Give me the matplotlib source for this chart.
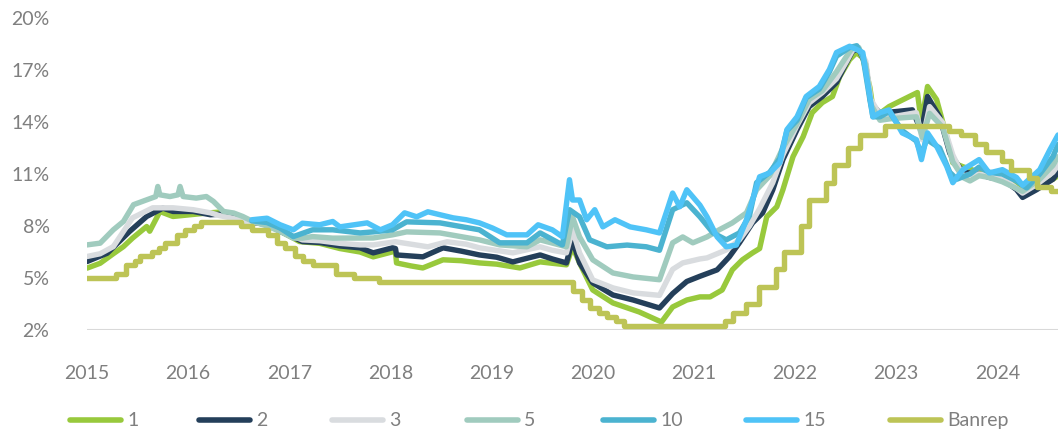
import math
import numpy as np
import matplotlib
matplotlib.use("Agg")
import matplotlib.pyplot as plt
from matplotlib.lines import Line2D
from matplotlib.ticker import FuncFormatter

# ---------------- data (x = position on the chart's year axis, y = %) ----------------
t1 = [2015.00, 2015.13, 2015.26, 2015.36, 2015.45, 2015.59, 2015.62, 2015.70, 2015.72, 2015.85,
      2016.02, 2016.19, 2016.31, 2016.44, 2016.54, 2016.64, 2016.78, 2016.91, 2017.04, 2017.10,
      2017.30, 2017.50, 2017.70, 2017.83, 2018.02, 2018.05, 2018.06, 2018.20, 2018.32, 2018.52,
      2018.70, 2018.88, 2019.05, 2019.28, 2019.48, 2019.60, 2019.74, 2019.80, 2019.87, 2020.00,
      2020.20, 2020.46, 2020.68, 2020.79, 2020.93, 2021.06, 2021.16, 2021.28, 2021.38, 2021.48,
      2021.58, 2021.65, 2021.72, 2021.82, 2021.88, 2021.98, 2022.08, 2022.17, 2022.27, 2022.37,
      2022.44, 2022.54, 2022.57, 2022.61, 2022.67, 2022.74, 2022.77, 2022.84, 2022.93, 2023.13,
      2023.21, 2023.25, 2023.31, 2023.40, 2023.50, 2023.56, 2023.66, 2023.82, 2023.92, 2024.05,
      2024.19, 2024.29, 2024.42, 2024.55, 2024.60]
y1 = [5.07, 5.35, 5.90, 6.31, 6.80, 7.47, 7.20, 8.10, 8.34, 8.05,
      8.15, 8.25, 8.30, 8.00, 7.80, 7.70, 7.60, 7.20, 6.80, 6.60,
      6.50, 6.20, 6.00, 5.72, 6.01, 6.00, 5.37, 5.20, 5.08, 5.55,
      5.50, 5.37, 5.30, 5.08, 5.43, 5.35, 5.26, 6.30, 5.37, 3.81,
      3.06, 2.54, 1.96, 2.83, 3.23, 3.41, 3.41, 3.81, 4.97, 5.55,
      5.95, 6.20, 8.03, 8.61, 9.59, 11.50, 12.65, 14.04, 14.62, 14.97,
      16.10, 17.10, 17.28, 17.50, 17.20, 15.50, 14.30, 14.00, 14.39, 14.97,
      15.20, 13.46, 15.55, 14.79, 12.65, 11.15, 10.92, 10.60, 10.40, 10.30,
      9.90, 9.50, 9.90, 10.20, 10.40]

t2 = [2015.00, 2015.20, 2015.42, 2015.59, 2015.75, 2015.85, 2016.05, 2016.22, 2016.38, 2016.54,
      2016.64, 2016.78, 2016.91, 2017.04, 2017.13, 2017.30, 2017.50, 2017.70, 2017.83, 2018.02,
      2018.05, 2018.06, 2018.32, 2018.52, 2018.70, 2018.88, 2019.05, 2019.21, 2019.48, 2019.60,
      2019.74, 2019.80, 2019.87, 2020.00, 2020.20, 2020.40, 2020.66, 2020.79, 2020.93, 2021.06,
      2021.23, 2021.35, 2021.45, 2021.58, 2021.68, 2021.78, 2021.88, 2022.02, 2022.14, 2022.27,
      2022.41, 2022.51, 2022.57, 2022.63, 2022.70, 2022.75, 2022.84, 2022.96, 2023.16, 2023.25,
      2023.31, 2023.43, 2023.53, 2023.66, 2023.82, 2023.92, 2024.05, 2024.19, 2024.25, 2024.39,
      2024.55, 2024.60]
y2 = [5.45, 5.93, 7.18, 8.05, 8.53, 8.34, 8.34, 8.15, 8.20, 7.85,
      7.70, 7.60, 7.20, 6.85, 6.60, 6.55, 6.35, 6.24, 5.95, 6.24,
      6.20, 5.83, 5.72, 6.24, 6.05, 5.83, 5.70, 5.43, 5.83, 5.60,
      5.37, 6.70, 5.37, 4.22, 3.52, 3.23, 2.77, 3.60, 4.30, 4.60,
      4.97, 5.72, 6.53, 7.68, 8.26, 9.59, 11.33, 13.06, 14.39, 14.97,
      15.78, 16.93, 17.60, 17.70, 16.80, 14.60, 14.00, 14.08, 14.20, 12.93,
      14.97, 13.80, 11.70, 10.60, 10.50, 10.30, 10.20, 9.60, 9.15, 9.60,
      10.20, 10.60]

t3 = [2015.00, 2015.13, 2015.26, 2015.45, 2015.65, 2015.85, 2016.05, 2016.22, 2016.31, 2016.44,
      2016.54, 2016.64, 2016.78, 2016.91, 2017.04, 2017.13, 2017.30, 2017.50, 2017.70, 2017.83,
      2018.05, 2018.37, 2018.56, 2018.75, 2018.88, 2019.21, 2019.48, 2019.60, 2019.74, 2019.80,
      2019.87, 2020.00, 2020.20, 2020.40, 2020.66, 2020.79, 2020.89, 2021.06, 2021.13, 2021.32,
      2021.45, 2021.55, 2021.65, 2021.78, 2021.88, 2022.02, 2022.14, 2022.27, 2022.41, 2022.51,
      2022.57, 2022.63, 2022.70, 2022.75, 2022.84, 2022.96, 2023.20, 2023.26, 2023.33, 2023.46,
      2023.56, 2023.66, 2023.82, 2023.92, 2024.05, 2024.25, 2024.39, 2024.55, 2024.60]
y3 = [5.74, 5.90, 6.31, 7.97, 8.55, 8.55, 8.44, 8.26, 8.10, 7.95,
      7.80, 7.70, 7.65, 7.30, 6.90, 6.70, 6.65, 6.50, 6.41, 6.41,
      6.59, 6.30, 6.59, 6.45, 6.24, 5.95, 6.30, 6.10, 5.95, 7.28,
      5.95, 4.39, 3.93, 3.64, 3.50, 5.00, 5.37, 5.60, 5.66, 6.12,
      6.70, 7.50, 8.50, 10.00, 11.60, 13.30, 14.60, 15.20, 16.00, 17.00,
      17.65, 17.75, 17.00, 14.80, 13.90, 13.80, 14.04, 12.47, 14.39, 13.46,
      11.60, 10.40, 10.50, 10.40, 10.30, 9.40, 9.90, 10.60, 11.00]

t5 = [2015.00, 2015.13, 2015.26, 2015.36, 2015.46, 2015.59, 2015.68, 2015.70, 2015.72, 2015.82,
      2015.90, 2015.92, 2015.95, 2016.08, 2016.18, 2016.25, 2016.35, 2016.45, 2016.54, 2016.64,
      2016.78, 2016.91, 2017.04, 2017.13, 2017.23, 2017.43, 2017.83, 2018.02, 2018.16, 2018.49,
      2018.88, 2019.08, 2019.35, 2019.48, 2019.74, 2019.80, 2019.87, 2020.00, 2020.20, 2020.40,
      2020.66, 2020.79, 2020.89, 2020.99, 2021.13, 2021.25, 2021.38, 2021.52, 2021.62, 2021.75,
      2021.88, 2022.02, 2022.14, 2022.27, 2022.41, 2022.51, 2022.57, 2022.63, 2022.70, 2022.75,
      2022.84, 2022.96, 2023.20, 2023.26, 2023.33, 2023.46, 2023.56, 2023.66, 2023.73, 2023.82,
      2023.92, 2024.05, 2024.25, 2024.42, 2024.55, 2024.60]
y5 = [6.41, 6.51, 7.28, 7.76, 8.73, 9.01, 9.20, 9.78, 9.30, 9.20,
      9.30, 9.78, 9.20, 9.11, 9.20, 8.92, 8.34, 8.25, 8.05, 7.76,
      7.50, 7.18, 6.80, 6.80, 6.89, 6.80, 6.81, 6.99, 7.16, 7.10,
      6.70, 6.41, 6.30, 6.70, 6.30, 8.03, 6.87, 5.55, 4.79, 4.56,
      4.40, 6.53, 6.87, 6.53, 6.87, 7.28, 7.68, 8.26, 9.59, 10.40,
      12.00, 13.40, 14.80, 15.30, 16.40, 17.30, 17.80, 17.80, 16.80, 14.50,
      13.60, 13.70, 13.80, 12.60, 14.00, 13.20, 11.20, 10.30, 10.10, 10.40,
      10.30, 10.05, 9.50, 10.20, 11.00, 11.50]

t10 = [2016.63, 2016.78, 2016.91, 2017.04, 2017.23, 2017.43, 2017.70, 2017.83, 2018.02, 2018.16,
       2018.49, 2018.88, 2019.08, 2019.35, 2019.48, 2019.70, 2019.77, 2019.87, 2019.97, 2020.14,
       2020.34, 2020.53, 2020.66, 2020.79, 2020.93, 2021.06, 2021.19, 2021.32, 2021.45, 2021.55,
       2021.62, 2021.75, 2021.85, 2021.92, 2022.02, 2022.11, 2022.24, 2022.34, 2022.41, 2022.54,
       2022.61, 2022.67, 2022.74, 2022.77, 2022.84, 2022.93, 2023.06, 2023.20, 2023.25, 2023.30,
       2023.43, 2023.53, 2023.60, 2023.73, 2023.82, 2023.92, 2024.05, 2024.19, 2024.29, 2024.42,
       2024.55, 2024.60]
y10 = [7.80, 7.70, 7.38, 6.89, 7.28, 7.28, 7.10, 7.16, 7.28, 7.74,
       7.68, 7.28, 6.53, 6.53, 7.10, 6.41, 8.44, 8.03, 6.70, 6.30,
       6.40, 6.30, 6.10, 8.44, 8.84, 8.03, 7.10, 6.70, 7.10, 8.10,
       10.00, 10.60, 11.40, 13.00, 13.60, 14.90, 15.40, 16.40, 17.30, 17.80,
       17.90, 17.30, 14.80, 13.80, 13.80, 14.10, 13.00, 12.40, 11.60, 12.50,
       12.00, 10.60, 10.20, 10.50, 10.90, 10.60, 10.50, 10.10, 9.70, 10.50,
       11.50, 12.20]

t15 = [2016.63, 2016.78, 2016.91, 2017.04, 2017.13, 2017.30, 2017.43, 2017.50, 2017.77, 2017.90,
       2018.02, 2018.14, 2018.26, 2018.37, 2018.49, 2018.62, 2018.75, 2018.88, 2019.01, 2019.15,
       2019.35, 2019.46, 2019.60, 2019.70, 2019.77, 2019.80, 2019.87, 2019.94, 2020.02, 2020.10,
       2020.22, 2020.37, 2020.53, 2020.66, 2020.74, 2020.79, 2020.86, 2020.93, 2021.06, 2021.13,
       2021.23, 2021.32, 2021.42, 2021.48, 2021.52, 2021.58, 2021.65, 2021.75, 2021.85, 2021.92,
       2022.02, 2022.11, 2022.24, 2022.34, 2022.41, 2022.54, 2022.61, 2022.67, 2022.74, 2022.77,
       2022.84, 2022.93, 2023.06, 2023.20, 2023.25, 2023.31, 2023.40, 2023.50, 2023.56, 2023.66,
       2023.82, 2023.92, 2024.05, 2024.19, 2024.25, 2024.42, 2024.52, 2024.60]
y15 = [7.86, 7.95, 7.57, 7.28, 7.66, 7.57, 7.76, 7.45, 7.68, 7.28,
       7.57, 8.26, 8.03, 8.32, 8.15, 7.97, 7.86, 7.68, 7.38, 6.99,
       6.99, 7.57, 7.28, 6.88, 10.17, 9.00, 9.00, 7.86, 8.44, 7.45,
       7.86, 7.45, 7.28, 7.10, 8.50, 9.40, 8.61, 9.59, 8.70, 8.03,
       6.87, 6.30, 6.40, 7.28, 7.86, 9.00, 10.34, 10.56, 11.15, 13.06,
       13.80, 14.97, 15.55, 16.53, 17.51, 17.87, 17.68, 17.51, 14.97, 13.80,
       14.04, 14.20, 12.87, 12.48, 11.33, 12.87, 12.10, 10.94, 10.00, 10.75,
       11.33, 10.56, 10.75, 10.30, 9.85, 10.75, 11.90, 12.75]

# Banrep policy rate: step dates (chart axis positions) and levels
tb = [2015.00, 2015.29, 2015.39, 2015.47, 2015.52, 2015.64, 2015.71, 2015.77, 2015.89, 2015.97,
      2016.06, 2016.13, 2016.52, 2016.63, 2016.79, 2016.88, 2016.96, 2017.06, 2017.14, 2017.23,
      2017.46, 2017.64, 2017.89, 2019.80, 2019.89, 2019.97, 2020.06, 2020.14, 2020.23, 2020.31,
      2021.31, 2021.39, 2021.52, 2021.64, 2021.81, 2021.89, 2022.06, 2022.14, 2022.31, 2022.39,
      2022.52, 2022.64, 2022.89, 2023.52, 2023.64, 2023.78, 2023.89, 2024.05, 2024.14, 2024.31,
      2024.39, 2024.53, 2024.60]
yb = [4.50, 4.75, 5.25, 5.50, 5.75, 6.00, 6.25, 6.50, 7.00, 7.25,
      7.50, 7.75, 7.50, 7.25, 7.00, 6.50, 6.25, 5.75, 5.50, 5.25,
      4.75, 4.50, 4.25, 3.75, 3.25, 2.75, 2.50, 2.25, 2.00, 1.75,
      2.00, 2.50, 3.00, 4.00, 5.00, 6.00, 7.50, 9.00, 10.00, 11.00,
      12.00, 12.75, 13.25, 13.00, 12.75, 12.25, 11.75, 11.25, 10.75, 10.25,
      9.75, 9.50, 9.50]

labels = ["1", "2", "3", "5", "10", "15", "Banrep"]
colors = ["#98C93C", "#243F5A", "#D9DCDF", "#A0CBBE", "#4BB3D0", "#4FC3F7", "#BDC456"]
year_ticks = list(range(2015, 2025))
y_ticks = [1.5, 4.5, 7.5, 10.5, 13.5, 16.5, 19.5]

# ---------------- figure ----------------
plt.rcParams['font.family'] = ['Lato', 'DejaVu Sans']
W, H = 1058, 436
TXT = "#7F7F7F"
fig = plt.figure(figsize=(W / 100, H / 100), dpi=100)
ax = fig.add_axes([87 / W, 106 / H, 971 / W, 312 / H])

series = [(t1, y1), (t2, y2), (t3, y3), (t5, y5), (t10, y10), (t15, y15)]
lw = 3.9
for (t, y), c in zip(series, colors[:6]):
    ax.plot(t, y, color=c, lw=lw, solid_joinstyle='round', solid_capstyle='round', zorder=3)
ax.step(tb, yb, where='post', color=colors[6], lw=lw, solid_joinstyle='round', zorder=4)

ax.set_xlim(2015.0, 2024.6)
ax.set_ylim(1.5, 19.5)
ax.set_yticks(y_ticks)
ax.yaxis.set_major_formatter(FuncFormatter(lambda v, p: f"{int(math.floor(v + 0.5))}%"))
ax.set_xticks(year_ticks)
ax.set_xticklabels([str(y) for y in year_ticks])
for s in ax.spines.values():
    s.set_visible(False)
ax.axhline(1.5, color="#D9D9D9", lw=1.5, zorder=1)
ax.tick_params(axis='both', length=0, labelsize=14, labelcolor=TXT)
ax.tick_params(axis='y', pad=27)
ax.tick_params(axis='x', pad=25)

# legend drawn in figure pixels, matching the reference placement
leg_x = [68, 197, 330, 465, 601, 744, 888]
leg_y = 1 - 420 / H
for x0, c, lab in zip(leg_x, colors, labels):
    fig.add_artist(Line2D([(x0 + 2) / W, (x0 + 53) / W], [leg_y, leg_y], color=c, lw=4.0,
                          solid_capstyle='round', transform=fig.transFigure))
    fig.text((x0 + 59) / W, leg_y, lab, ha='left', va='center', fontsize=14, color=TXT)

fig.savefig("out.png", dpi=100)
